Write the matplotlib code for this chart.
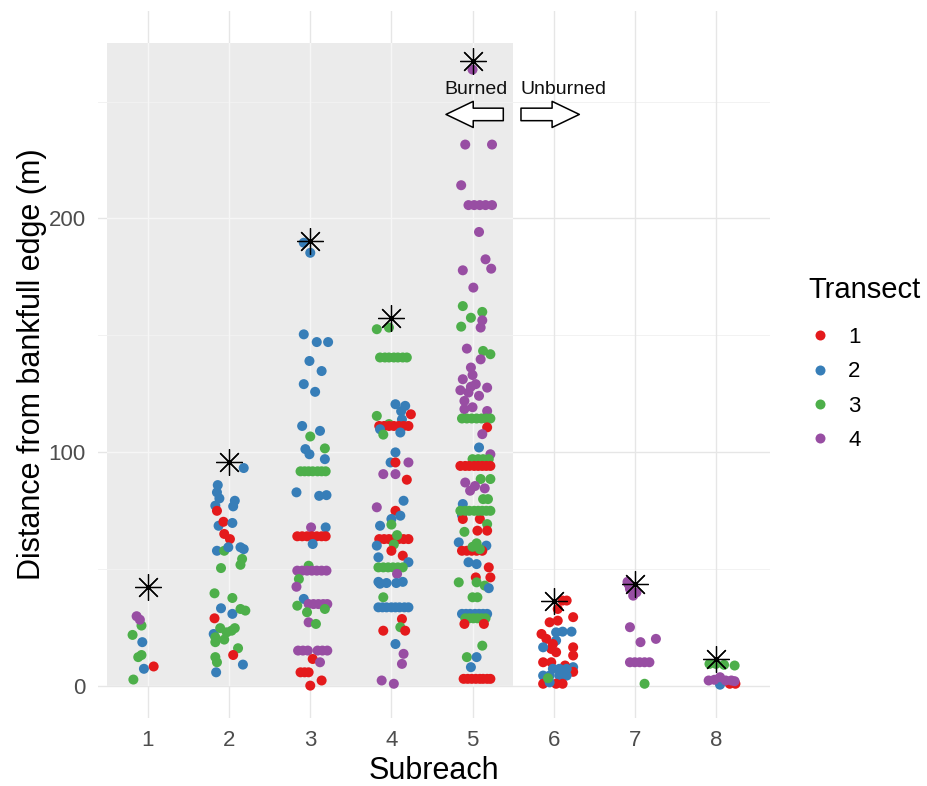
import matplotlib
matplotlib.use("Agg")
import matplotlib.pyplot as plt
from matplotlib.patches import Rectangle
from matplotlib.lines import Line2D

plt.rcParams["font.family"] = ["Liberation Sans", "DejaVu Sans"]

# Observations per subreach: (jitter offset, distance from bankfull edge in m, transect)
reach1 = [(-0.19, 21.8, 3), (-0.08, 25.8, 3), (-0.14, 29.8, 4), (-0.10, 28.3, 4),
          (-0.07, 18.7, 2), (-0.12, 12.3, 3), (-0.08, 13.2, 3), (-0.05, 7.3, 2),
          (0.07, 8.3, 1), (-0.18, 2.7, 3)]

reach2 = [(0.18, 93.2, 2), (-0.14, 85.9, 2), (-0.15, 82.8, 2), (-0.12, 80.2, 2),
          (-0.17, 77.1, 2), (-0.15, 74.9, 1), (0.07, 79.2, 2), (0.05, 76.8, 2),
          (-0.13, 68.5, 2), (-0.07, 70.2, 1), (0.04, 69.7, 2), (-0.06, 65.0, 1),
          (0.01, 62.8, 1), (-0.15, 57.8, 2), (-0.06, 57.8, 3), (-0.01, 59.3, 2),
          (0.14, 59.3, 2), (0.18, 58.5, 2), (0.16, 54.3, 3), (0.14, 51.8, 3),
          (-0.10, 50.4, 3), (-0.18, 39.6, 3), (0.04, 37.6, 3), (-0.10, 33.2, 2),
          (0.04, 30.8, 2), (0.14, 32.9, 3), (0.20, 32.2, 3), (-0.18, 28.9, 1),
          (-0.19, 22.2, 2), (-0.17, 20.8, 3), (-0.11, 24.7, 3), (-0.03, 22.9, 3),
          (0.03, 23.6, 3), (0.07, 24.7, 3), (-0.06, 19.8, 3), (-0.17, 18.7, 3),
          (0.11, 16.1, 3), (0.05, 13.2, 1), (-0.17, 12.3, 3), (-0.15, 10.1, 3),
          (0.17, 9.1, 2), (-0.16, 5.8, 2)]

reach3 = [(-0.08, 189.6, 2), (0.00, 185.3, 2), (-0.08, 150.4, 2), (0.08, 147.1, 2),
          (0.22, 147.1, 2), (-0.01, 139.0, 2), (0.14, 134.7, 2), (-0.08, 129.1, 2),
          (0.06, 125.8, 2), (-0.10, 111.2, 2), (0.00, 106.7, 3), (0.12, 109.1, 2),
          (-0.06, 101.3, 2), (-0.01, 99.1, 2), (0.18, 101.6, 3), (0.18, 97.0, 2),
          (-0.12, 91.8, 3), (-0.07, 91.8, 3), (-0.02, 91.8, 3), (0.03, 91.8, 3),
          (0.09, 91.8, 3), (0.14, 91.8, 3), (0.19, 91.8, 3),
          (0.20, 81.6, 2), (-0.17, 82.8, 2), (0.11, 81.3, 2),
          (0.01, 67.8, 4), (0.19, 67.8, 2),
          (-0.16, 64.0, 1), (-0.10, 64.0, 1), (-0.04, 64.0, 1), (0.02, 64.0, 1),
          (0.08, 64.0, 1), (0.14, 64.0, 1), (0.19, 64.0, 1),
          (0.03, 60.7, 2), (-0.02, 51.4, 3),
          (-0.16, 49.3, 4), (-0.10, 49.3, 4), (-0.04, 49.3, 4), (0.02, 49.3, 4),
          (0.08, 49.3, 4), (0.14, 49.3, 4), (0.20, 49.3, 4),
          (-0.14, 45.7, 3), (-0.17, 42.4, 4), (-0.08, 37.2, 2), (-0.16, 34.3, 3),
          (-0.02, 35.0, 4), (0.04, 35.0, 4), (0.10, 35.0, 4), (0.16, 35.0, 4),
          (0.21, 35.0, 4), (-0.04, 31.5, 3), (0.18, 32.9, 3),
          (-0.02, 27.2, 4), (0.07, 26.5, 3),
          (-0.15, 15.1, 4), (-0.09, 15.1, 4), (-0.03, 15.1, 4), (0.09, 15.1, 4),
          (0.15, 15.1, 4), (0.21, 15.1, 4),
          (0.03, 11.5, 1), (0.12, 10.1, 4),
          (-0.12, 5.8, 1), (-0.07, 5.8, 1), (-0.02, 5.8, 1),
          (0.14, 2.3, 1), (0.00, 0.1, 1)]

reach4 = [(-0.18, 152.6, 3), (-0.03, 153.3, 3),
          (-0.14, 140.5, 3), (-0.08, 140.5, 3), (-0.03, 140.5, 3), (0.03, 140.5, 3),
          (0.08, 140.5, 3), (0.14, 140.5, 3), (0.19, 140.5, 3),
          (0.05, 120.5, 2), (0.17, 119.8, 2), (0.24, 116.2, 1), (-0.18, 115.5, 3),
          (0.12, 117.5, 2), (0.13, 114.0, 2), (-0.03, 112.0, 3),
          (-0.15, 111.2, 1), (-0.09, 111.2, 1), (-0.03, 111.2, 1), (0.03, 111.2, 1),
          (0.09, 111.2, 1), (0.15, 111.2, 1), (0.21, 111.2, 1),
          (-0.14, 109.8, 2), (-0.10, 107.5, 3), (0.11, 108.4, 2),
          (0.05, 99.9, 2), (-0.01, 95.6, 2), (0.05, 95.6, 1), (-0.10, 90.6, 4),
          (0.21, 95.6, 4), (0.05, 90.6, 4), (0.19, 88.2, 1),
          (0.15, 79.2, 2), (-0.18, 76.4, 4), (0.05, 74.9, 1), (0.11, 72.8, 2),
          (0.00, 71.4, 2), (-0.14, 68.5, 2), (0.00, 69.0, 3),
          (-0.15, 62.8, 1), (-0.09, 62.8, 1), (-0.03, 62.8, 1), (0.03, 62.8, 1),
          (0.09, 62.8, 1), (0.15, 62.8, 1), (0.21, 62.8, 1),
          (0.07, 64.5, 3), (0.03, 60.5, 3), (-0.18, 60.0, 2), (0.00, 57.8, 1),
          (0.14, 55.7, 1), (0.21, 52.9, 2), (-0.16, 55.0, 2),
          (-0.16, 50.7, 3), (-0.10, 50.7, 3), (-0.04, 50.7, 3), (0.02, 50.7, 3),
          (0.08, 50.7, 3), (0.14, 50.7, 3),
          (0.07, 47.9, 4), (-0.16, 44.5, 2), (-0.14, 43.7, 2), (-0.06, 44.0, 2),
          (0.06, 44.0, 2), (0.14, 44.5, 2), (-0.10, 37.9, 3),
          (-0.16, 33.6, 2), (-0.11, 33.6, 2), (-0.06, 33.6, 2), (0.00, 33.6, 2),
          (0.05, 33.6, 2), (0.10, 33.6, 2), (0.16, 33.6, 2), (0.21, 33.6, 2),
          (0.13, 28.6, 1), (0.11, 25.1, 3), (-0.10, 23.6, 1), (0.17, 23.6, 1),
          (0.05, 17.9, 2), (0.15, 13.7, 4), (0.13, 9.4, 4), (-0.12, 2.3, 4),
          (0.03, 0.9, 4)]

reach5 = [(0.00, 263.7, 4), (-0.09, 231.6, 4), (0.24, 231.6, 4), (-0.14, 214.2, 4),
          (-0.05, 205.7, 4), (0.02, 205.7, 4), (0.09, 205.7, 4), (0.16, 205.7, 4),
          (0.24, 205.7, 4),
          (0.08, 194.2, 4), (0.16, 182.5, 4), (0.23, 178.5, 4), (-0.12, 177.8, 4),
          (0.01, 170.4, 4), (-0.12, 162.5, 3), (0.12, 160.0, 3), (-0.02, 157.5, 3),
          (0.12, 156.4, 4), (0.10, 153.3, 4), (-0.14, 153.7, 3),
          (-0.07, 144.3, 4), (0.13, 143.3, 3), (0.22, 141.9, 3), (0.10, 139.7, 4),
          (-0.02, 136.2, 4), (0.00, 133.0, 4), (-0.12, 131.2, 4), (0.04, 129.1, 4),
          (0.18, 127.6, 4), (-0.15, 126.5, 4), (-0.02, 128.0, 4), (-0.05, 125.5, 4),
          (0.08, 124.1, 4), (-0.10, 121.9, 4), (0.00, 119.2, 4), (-0.10, 118.4, 4),
          (0.18, 117.6, 4),
          (-0.13, 114.4, 3), (-0.07, 114.4, 3), (-0.01, 114.4, 3), (0.05, 114.4, 3),
          (0.11, 114.4, 3), (0.17, 114.4, 3), (0.22, 114.4, 3),
          (0.18, 110.6, 1), (0.12, 107.7, 4), (0.08, 102.0, 2), (0.22, 99.1, 4),
          (0.00, 97.0, 3), (0.07, 97.0, 3), (0.13, 97.0, 3), (0.20, 97.0, 3),
          (-0.15, 94.1, 1), (-0.09, 94.1, 1), (-0.04, 94.1, 1), (0.02, 94.1, 1),
          (0.07, 94.1, 1), (0.12, 94.1, 1), (0.17, 94.1, 1), (0.22, 94.1, 1),
          (0.10, 88.5, 3), (0.22, 88.5, 3), (-0.09, 87.0, 4), (0.03, 85.5, 4),
          (-0.03, 83.5, 4), (0.15, 84.5, 4), (0.13, 79.9, 3), (0.19, 79.9, 3),
          (-0.12, 77.8, 2), (-0.13, 73.0, 2), (-0.12, 71.4, 1), (0.09, 71.4, 1),
          (-0.15, 74.9, 3), (-0.09, 74.9, 3), (-0.04, 74.9, 3), (0.02, 74.9, 3),
          (0.07, 74.9, 3), (0.12, 74.9, 3), (0.17, 74.9, 3), (0.22, 74.9, 3),
          (0.18, 69.2, 3), (0.18, 66.4, 1), (-0.10, 65.9, 3), (0.06, 66.4, 1),
          (-0.17, 61.4, 2), (0.17, 60.0, 2),
          (-0.13, 57.8, 1), (-0.07, 57.8, 1), (-0.01, 57.8, 1), (0.05, 57.8, 1),
          (0.12, 57.8, 1),
          (0.00, 59.5, 3), (0.09, 58.5, 3), (0.05, 61.0, 3),
          (-0.05, 52.9, 2), (0.05, 52.1, 2), (0.20, 50.7, 1),
          (-0.17, 44.3, 3), (0.04, 46.4, 1), (0.22, 46.4, 1), (0.05, 44.3, 3),
          (0.15, 42.9, 3), (0.20, 41.8, 2), (0.00, 37.9, 3), (0.06, 37.9, 3),
          (-0.13, 30.8, 2), (-0.08, 30.8, 2), (-0.03, 30.8, 2), (0.03, 30.8, 2),
          (0.08, 30.8, 2), (0.13, 30.8, 2), (0.18, 30.8, 2),
          (-0.09, 28.9, 3), (-0.04, 28.9, 3), (0.01, 28.9, 3), (0.06, 28.9, 3),
          (0.11, 28.9, 3), (0.16, 28.9, 3),
          (-0.10, 26.5, 1), (0.14, 26.5, 1),
          (0.12, 17.2, 3), (-0.07, 12.3, 3), (0.05, 12.3, 2), (-0.02, 8.0, 2),
          (-0.11, 3.0, 1), (-0.06, 3.0, 1), (-0.01, 3.0, 1), (0.04, 3.0, 1),
          (0.09, 3.0, 1), (0.13, 3.0, 1), (0.18, 3.0, 1), (0.22, 3.0, 1)]

reach6 = [(0.11, 36.5, 1), (0.16, 36.5, 1), (0.05, 32.9, 1), (0.24, 29.4, 1),
          (-0.05, 27.2, 1), (0.05, 27.9, 1), (-0.15, 22.2, 1), (-0.09, 20.1, 1),
          (0.03, 22.9, 2), (0.11, 23.2, 2), (0.22, 23.2, 2), (0.03, 19.4, 2),
          (-0.01, 17.9, 1), (-0.03, 15.8, 1), (-0.13, 16.5, 2), (0.24, 16.5, 1),
          (0.24, 13.0, 1), (0.03, 14.4, 1), (-0.13, 10.1, 1), (-0.03, 10.1, 1),
          (0.24, 8.0, 2), (0.14, 8.7, 1), (0.24, 6.0, 1),
          (-0.01, 7.3, 2), (0.07, 7.3, 2), (0.16, 7.3, 2),
          (-0.13, 4.4, 2), (-0.05, 4.4, 2), (0.07, 4.4, 2), (0.16, 4.4, 2),
          (-0.13, 0.9, 1), (0.03, 0.9, 1), (0.11, 0.9, 1), (-0.05, 1.5, 2),
          (-0.07, 3.3, 3)]

reach7 = [(-0.08, 43.6, 4), (-0.06, 41.5, 4), (-0.02, 38.6, 4), (0.02, 40.0, 4),
          (-0.09, 44.5, 4), (-0.06, 25.1, 4), (0.07, 18.7, 4), (0.26, 20.1, 4),
          (-0.06, 10.1, 4), (0.00, 10.1, 4), (0.06, 10.1, 4), (0.12, 10.1, 4),
          (0.18, 10.1, 4), (0.12, 0.9, 3)]

reach8 = [(0.05, 0.5, 2), (0.17, 0.9, 1), (0.24, 0.9, 1),
          (-0.08, 9.4, 3), (0.00, 9.4, 3), (0.10, 9.0, 3), (0.23, 8.7, 3),
          (-0.09, 2.3, 4), (-0.02, 2.6, 4), (0.05, 3.7, 4), (0.12, 2.3, 4),
          (0.19, 2.3, 4), (0.23, 2.0, 4)]

reaches = [reach1, reach2, reach3, reach4, reach5, reach6, reach7, reach8]
subreach_labels = ["1", "2", "3", "4", "5", "6", "7", "8"]

# Maximum floodplain extent per subreach (asterisks)
max_extent = [42.4, 95.6, 190.3, 157.5, 267.2, 36.5, 43.6, 11.5]

transects = [1, 2, 3, 4]
transect_colors = {1: "#E41A1C", 2: "#377EB8", 3: "#4DAF4A", 4: "#984EA3"}

burned_span = (0.5, 5.5)     # subreaches inside the burned area
burned_top = 275

fig = plt.figure(figsize=(9.27, 7.86), dpi=100)
ax = fig.add_axes([98 / 927, 1 - 718 / 786, 672 / 927, 707 / 786])
ax.set_xlim(0.384, 8.666)
ax.set_ylim(-13.75, 288.75)

# grid (minimal theme look)
major_y = [0, 100, 200]
minor_y = [50, 150, 250]
positions = list(range(1, len(subreach_labels) + 1))
for yv in major_y:
    ax.axhline(yv, color="#E6E6E6", lw=1.0, zorder=0)
for yv in minor_y:
    ax.axhline(yv, color="#F0F0F0", lw=0.6, zorder=0)
for xv in positions:
    ax.axvline(xv, color="#E6E6E6", lw=1.0, zorder=0)

# shaded burned area with the grid showing through as lighter lines
shade = Rectangle((burned_span[0], 0), burned_span[1] - burned_span[0], burned_top,
                  facecolor="#EBEBEB", edgecolor="none", zorder=0.5)
ax.add_patch(shade)
for yv in major_y:
    ln = ax.axhline(yv, color="#F6F6F6", lw=1.0, zorder=0.6)
    ln.set_clip_path(shade)
for yv in minor_y:
    ln = ax.axhline(yv, color="#F3F3F3", lw=0.6, zorder=0.6)
    ln.set_clip_path(shade)
for xv in positions:
    ln = ax.axvline(xv, color="#F6F6F6", lw=1.0, zorder=0.6)
    ln.set_clip_path(shade)

# jittered points
xs, ys, cs = [], [], []
for pos, reach in zip(positions, reaches):
    for dx, dist, tr in reach:
        xs.append(pos + dx)
        ys.append(dist)
        cs.append(transect_colors[tr])
ax.scatter(xs, ys, s=52, c=cs, linewidths=0, zorder=2)

# maximum extent markers
ax.plot(positions, max_extent, ls="", marker=(8, 2, 0), markersize=19,
        markeredgewidth=0.9, color="black", zorder=3)

# burned / unburned annotation
label_y = 255.0
arrow_y = 244.5
ax.text(5.046, label_y, "Burned", ha="center", va="center", fontsize=14, color="#111111")
ax.text(6.121, label_y, "Unburned", ha="center", va="center", fontsize=14, color="#111111")
arrow_style = "simple,head_length=0.98,head_width=0.94,tail_width=0.45"
ax.annotate("", xy=(4.673, arrow_y), xytext=(5.379, arrow_y),
            arrowprops=dict(arrowstyle=arrow_style, fc="white", ec="black", lw=1.1,
                            shrinkA=0, shrinkB=0, mutation_scale=20), zorder=4)
ax.annotate("", xy=(6.316, arrow_y), xytext=(5.597, arrow_y),
            arrowprops=dict(arrowstyle=arrow_style, fc="white", ec="black", lw=1.1,
                            shrinkA=0, shrinkB=0, mutation_scale=20), zorder=4)

# axes
for sp in ax.spines.values():
    sp.set_visible(False)
ax.set_xticks(positions)
ax.set_xticklabels(subreach_labels)
ax.set_yticks(major_y)
ax.set_yticklabels([str(v) for v in major_y])
ax.tick_params(length=0, labelsize=16, labelcolor="#4D4D4D")
ax.tick_params(axis="x", pad=9)
ax.tick_params(axis="y", pad=9)
ax.set_xlabel("Subreach", fontsize=22, color="black", labelpad=3)
ax.set_ylabel("Distance from bankfull edge (m)", fontsize=22, color="black", labelpad=1)

# legend
fig.text(808 / 927, 1 - 290 / 786, "Transect", fontsize=21, ha="left", va="center",
         color="black")
handles = [Line2D([], [], ls="", marker="o", markersize=7.2, markeredgewidth=0,
                  color=transect_colors[t]) for t in transects]
fig.legend(handles, [str(t) for t in transects],
           loc="upper left", bbox_to_anchor=(806 / 927, 1 - 327 / 786),
           frameon=False, fontsize=16,
           handlelength=1.3, handletextpad=0.6, labelspacing=0.6,
           borderpad=0, borderaxespad=0)

fig.savefig("out.png", dpi=100)
